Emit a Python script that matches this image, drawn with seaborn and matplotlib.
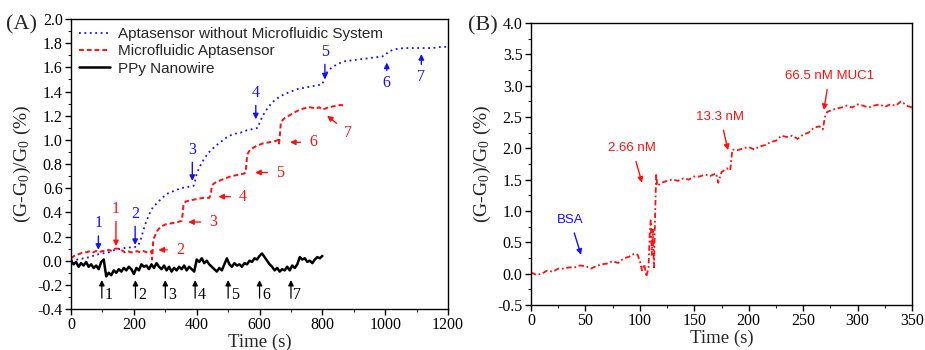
import matplotlib
matplotlib.use("Agg")
import matplotlib.pyplot as plt
import seaborn as sns

# ---- panel A data ----
apta_time = [0, 20, 40, 60, 80, 100, 120, 140, 160, 180, 200, 212, 220, 230, 240, 250,
             260, 275, 290, 310, 330, 350, 370, 390, 395, 400, 410, 425, 440, 460, 480,
             500, 520, 540, 560, 580, 595, 600, 610, 625, 640, 660, 680, 700, 720, 740,
             760, 780, 800, 805, 815, 830, 850, 870, 900, 930, 960, 990, 1000, 1010,
             1030, 1060, 1090, 1120, 1150, 1180, 1200]
apta_val = [0.00, 0.01, 0.02, 0.03, 0.05, 0.06, 0.07, 0.09, 0.10, 0.11, 0.11, 0.12, 0.16,
            0.25, 0.33, 0.39, 0.44, 0.48, 0.52, 0.56, 0.58, 0.60, 0.61, 0.62, 0.66, 0.72,
            0.78, 0.85, 0.90, 0.95, 0.99, 1.03, 1.05, 1.06, 1.08, 1.09, 1.10, 1.14, 1.20,
            1.26, 1.31, 1.35, 1.38, 1.40, 1.42, 1.43, 1.44, 1.45, 1.46, 1.50, 1.56, 1.60,
            1.63, 1.65, 1.66, 1.67, 1.68, 1.69, 1.70, 1.73, 1.75, 1.76, 1.76, 1.76, 1.76,
            1.77, 1.77]

micro_time = [0, 10, 20, 30, 40, 50, 60, 70, 80, 90, 100, 110, 120, 130, 140, 150, 160,
              170, 180, 190, 200, 210, 220, 230, 240, 250, 256, 258, 262, 266, 275, 285,
              300, 320, 340, 352, 356, 358, 365, 380, 400, 420, 440, 445, 448, 455, 470,
              490, 510, 530, 550, 556, 558, 561, 570, 590, 610, 630, 650, 660, 662, 665,
              668, 680, 700, 720, 740, 760, 780, 790, 800, 820, 840, 860, 870]
micro_val = [0.02, 0.04, 0.05, 0.06, 0.07, 0.07, 0.08, 0.07, 0.08, 0.07, 0.08, 0.08, 0.09,
             0.08, 0.10, 0.10, 0.09, 0.07, 0.08, 0.07, 0.07, 0.08, 0.07, 0.08, 0.07, 0.07,
             0.08, 0.01, 0.18, 0.20, 0.25, 0.28, 0.30, 0.31, 0.32, 0.33, 0.40, 0.47, 0.49,
             0.50, 0.51, 0.52, 0.52, 0.55, 0.62, 0.64, 0.66, 0.68, 0.70, 0.71, 0.72, 0.73,
             0.80, 0.88, 0.92, 0.95, 0.97, 0.98, 0.99, 1.00, 0.97, 1.05, 1.15, 1.18, 1.21,
             1.24, 1.26, 1.27, 1.26, 1.27, 1.25, 1.27, 1.28, 1.29, 1.28]

ppy_time = list(range(0, 801, 8))
ppy_val = [0.00, -0.03, -0.01, -0.05, -0.02, -0.04, -0.01, -0.05, -0.03, -0.06, -0.04,
           -0.07, -0.01, 0.01, -0.13, -0.10, -0.12, -0.08, -0.10, -0.07, -0.09, -0.06,
           -0.08, -0.05, -0.07, -0.11, -0.06, -0.08, -0.03, -0.05, -0.04, -0.07, -0.03,
           -0.06, -0.02, -0.05, -0.07, -0.04, -0.08, -0.05, -0.09, -0.06, -0.08, -0.05,
           -0.07, -0.04, -0.08, -0.05, -0.07, -0.09, 0.01, -0.01, 0.02, -0.02, 0.00,
           -0.03, -0.05, -0.07, -0.09, -0.06, -0.08, -0.03, 0.02, -0.03, -0.05, -0.02,
           -0.04, -0.03, -0.05, -0.02, -0.03, 0.00, -0.01, 0.02, 0.01, 0.04, 0.06, 0.03,
           0.00, -0.03, -0.05, -0.08, -0.06, -0.09, -0.07, -0.08, -0.05, -0.08, -0.04,
           -0.06, -0.03, 0.03, 0.01, 0.02, -0.01, 0.00, -0.02, 0.01, 0.03, 0.02, 0.04]

# ---- panel B data ----
muc_time = [0, 5, 10, 15, 20, 25, 30, 35, 40, 45, 50, 55, 60, 65, 70, 75, 80, 85, 90, 95,
            98, 100, 102, 104, 106, 108, 109, 110, 111, 112, 113, 114, 115, 116, 120, 125,
            130, 135, 140, 145, 150, 155, 160, 165, 170, 172, 175, 180, 183, 185, 190, 195,
            200, 205, 210, 215, 220, 225, 230, 235, 240, 245, 250, 255, 260, 265, 268, 270,
            272, 275, 280, 285, 290, 295, 300, 305, 310, 315, 320, 325, 330, 335, 340, 345,
            350]
muc_val = [0.02, -0.02, 0.00, 0.05, 0.03, 0.08, 0.08, 0.10, 0.10, 0.13, 0.12, 0.08, 0.12,
           0.15, 0.16, 0.20, 0.17, 0.24, 0.27, 0.32, 0.30, 0.20, 0.05, 0.15, -0.05, 0.10,
           0.60, 0.85, 0.30, 0.70, 0.10, 0.90, 1.60, 1.40, 1.45, 1.48, 1.50, 1.48, 1.52,
           1.50, 1.55, 1.55, 1.58, 1.56, 1.60, 1.45, 1.62, 1.68, 1.65, 1.98, 1.97, 2.00,
           2.02, 1.98, 2.03, 2.05, 2.10, 2.12, 2.20, 2.18, 2.20, 2.15, 2.22, 2.25, 2.33,
           2.35, 2.30, 2.50, 2.58, 2.60, 2.63, 2.65, 2.68, 2.65, 2.70, 2.68, 2.65, 2.68,
           2.70, 2.66, 2.70, 2.68, 2.75, 2.68, 2.65]

BLUE = "#1010ff"
RED = "#ff1010"

sns.set_style("ticks")
plt.rcParams["font.family"] = ["Liberation Serif", "DejaVu Serif"]
plt.rcParams["mathtext.fontset"] = "stix"
SANS = ["Liberation Sans", "DejaVu Sans"]

fig = plt.figure(figsize=(9.25, 3.5), dpi=100)
axA = fig.add_axes([0.0768, 0.117, 0.4076, 0.8286])
axB = fig.add_axes([0.574, 0.1286, 0.412, 0.806])

ylab = r"(G-G$_\mathregular{0}$)/G$_\mathregular{0}$ (%)"


def style_axis(ax):
    for s in ax.spines.values():
        s.set_linewidth(1.0)
        s.set_color("black")
    ax.tick_params(which="major", direction="out", length=4, width=1, labelsize=11.5,
                   colors="black", pad=2)
    ax.tick_params(which="minor", direction="out", length=2.5, width=0.8)
    ax.set_xlabel("Time (s)", fontsize=13.5, labelpad=0)
    ax.set_ylabel(ylab, fontsize=14, labelpad=3)


# ---------- panel A ----------
sns.lineplot(x=apta_time, y=apta_val, ax=axA, color=BLUE, linestyle=(0, (1, 2)),
             linewidth=1.3, label="Aptasensor without Microfluidic System")
sns.lineplot(x=micro_time, y=micro_val, ax=axA, color=RED, linestyle=(0, (2.5, 1.5)),
             linewidth=1.4, label="Microfluidic Aptasensor")
sns.lineplot(x=ppy_time, y=ppy_val, ax=axA, color="black", linewidth=1.8,
             label="PPy Nanowire")

axA.set_xlim(0, 1200)
axA.set_ylim(-0.4, 2.0)
axA.set_xticks(range(0, 1201, 200))
axA.set_xticks(range(100, 1200, 200), minor=True)
axA.set_yticks([i / 10 for i in range(-4, 21, 2)])
axA.set_yticks([i / 10 for i in range(-3, 20, 2)], minor=True)
axA.yaxis.set_major_formatter(matplotlib.ticker.FormatStrFormatter("%.1f"))
style_axis(axA)

leg = axA.legend(loc="upper left", frameon=False, prop={"family": SANS, "size": 11},
                 handlelength=2.0, handletextpad=0.5, borderaxespad=0.25,
                 labelspacing=0.2, borderpad=0.3)

arr = dict(arrowstyle="-|>", lw=1.0, mutation_scale=8, shrinkA=1, shrinkB=0)

# blue numbered arrows (pointing down)
for lab, t, ytxt, ytip in [("1", 87, 0.31, 0.09), ("2", 204, 0.39, 0.13),
                            ("3", 386, 0.92, 0.66), ("4", 588, 1.39, 1.17),
                            ("5", 808, 1.73, 1.50)]:
    axA.annotate(lab, xy=(t, ytip), xytext=(t, ytxt), color=BLUE, fontsize=11.5,
                 ha="center", va="center", arrowprops=dict(arr, color=BLUE))
# blue arrows pointing up
for lab, t, ytxt, ytip in [("6", 1005, 1.47, 1.64), ("7", 1115, 1.52, 1.71)]:
    axA.annotate(lab, xy=(t, ytip), xytext=(t, ytxt), color=BLUE, fontsize=11.5,
                 ha="center", va="center", arrowprops=dict(arr, color=BLUE))

# red arrows
axA.annotate("1", xy=(143, 0.12), xytext=(143, 0.43), color=RED, fontsize=11.5,
             ha="center", va="center", arrowprops=dict(arr, color=RED))
for lab, xt, yt, xp, yp in [("2", 347, 0.09, 278, 0.09), ("3", 453, 0.32, 373, 0.32),
                            ("4", 548, 0.53, 469, 0.53), ("5", 666, 0.73, 586, 0.73),
                            ("6", 771, 0.98, 697, 0.98), ("7", 882, 1.06, 815, 1.20)]:
    axA.annotate(lab, xy=(xp, yp), xytext=(xt, yt), color=RED, fontsize=11.5,
                 ha="center", va="center",
                 arrowprops=dict(arr, color=RED, shrinkA=4))

# black arrows under the PPy trace
for lab, t in zip(["1", "2", "3", "4", "5", "6", "7"], [98, 205, 300, 395, 500, 600, 700]):
    axA.annotate("", xy=(t, -0.16), xytext=(t, -0.31),
                 arrowprops=dict(arr, color="black", lw=0.9, shrinkA=0))
    axA.text(t + 8, -0.285, lab, fontsize=11.5, ha="left", va="center", color="black")

# ---------- panel B ----------
sns.lineplot(x=muc_time, y=muc_val, ax=axB, color=RED, linestyle=(0, (3, 1.5, 1, 1.5)),
             linewidth=1.3)
axB.set_xlim(0, 350)
axB.set_ylim(-0.5, 4.0)
axB.set_xticks(range(0, 351, 50))
axB.set_xticks(range(25, 350, 50), minor=True)
axB.set_yticks([i / 2 for i in range(-1, 9)])
axB.set_yticks([i / 4 for i in range(-1, 16, 2)], minor=True)
axB.yaxis.set_major_formatter(matplotlib.ticker.FormatStrFormatter("%.1f"))
style_axis(axB)

axB.annotate("BSA", xy=(46, 0.30), xytext=(36, 0.86), color=BLUE, fontsize=9.5,
             family=SANS, ha="center", va="center", arrowprops=dict(arr, color=BLUE, shrinkA=3))
for lab, xt, yt, xp, yp in [("2.66 nM", 93, 2.00, 102, 1.45),
                            ("13.3 nM", 174, 2.50, 181, 1.97),
                            ("66.5 nM MUC1", 274, 3.15, 269, 2.61)]:
    axB.annotate(lab, xy=(xp, yp), xytext=(xt, yt), color=RED, fontsize=9.5,
                 family=SANS, ha="center", va="center",
                 arrowprops=dict(arr, color=RED, shrinkA=3))

fig.text(0.006, 0.93, "(A)", fontsize=16, ha="left", va="center")
fig.text(0.506, 0.925, "(B)", fontsize=16, ha="left", va="center")

fig.savefig("out.png", dpi=100)
